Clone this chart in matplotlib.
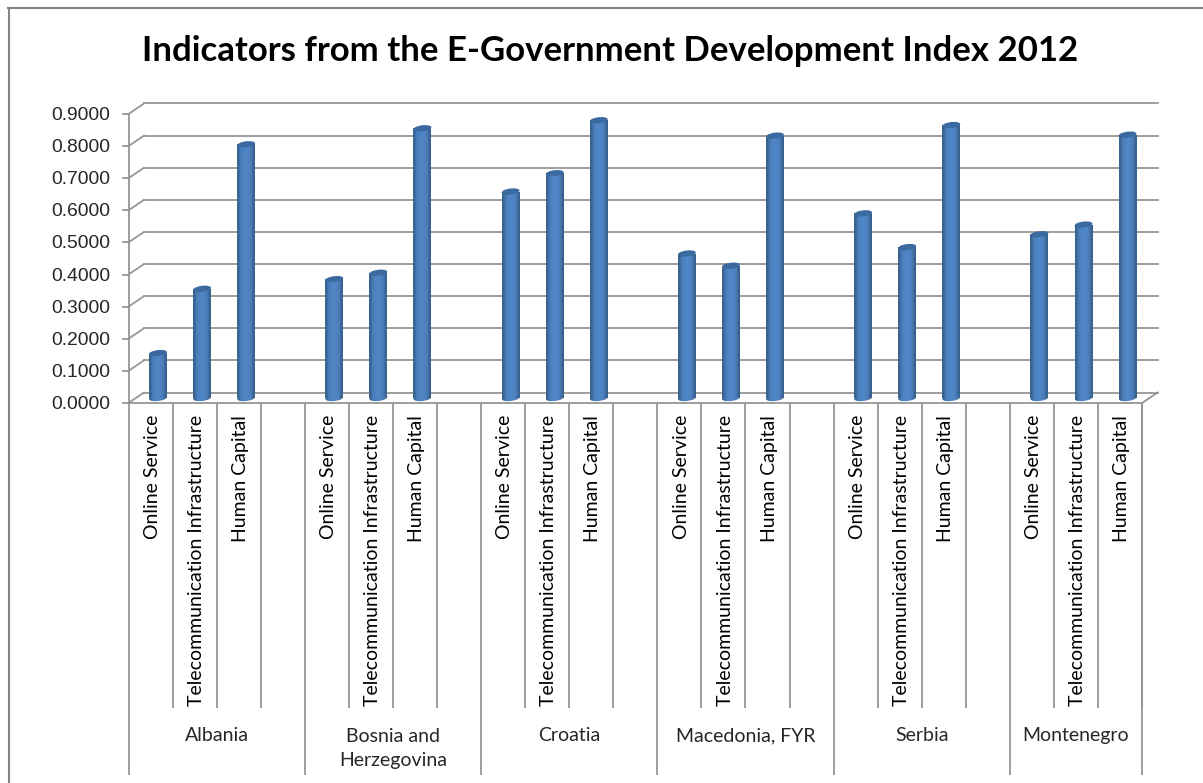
import matplotlib
matplotlib.use('Agg')
import matplotlib.pyplot as plt
import numpy as np
from matplotlib.patches import Ellipse
from matplotlib.transforms import Affine2D, IdentityTransform, blended_transform_factory

plt.rcParams['font.family'] = ['Lato', 'DejaVu Sans']

W, H = 1203, 783

countries = ['Albania', 'Bosnia and\nHerzegovina', 'Croatia', 'Macedonia, FYR', 'Serbia', 'Montenegro']
indicators = ['Online Service', 'Telecommunication Infrastructure', 'Human Capital']
online_service = [0.14, 0.37, 0.643, 0.45, 0.575, 0.51]
telecom = [0.34, 0.39, 0.70, 0.412, 0.47, 0.54]
human_capital = [0.79, 0.84, 0.865, 0.817, 0.85, 0.82]
yticks = [0.1 * i for i in range(10)]

line_col = '#969696'
lw = 1.3
slot_px = 44.07

fig = plt.figure(figsize=(W / 100, H / 100), dpi=100)
# axes = plane the bars stand on; walls and floor are shifted copies of it
ax = fig.add_axes([136 / W, (H - 398) / H, 23 * slot_px / W, 289 / H])
ax.axis('off')
ax.set_xlim(0, 23)
ax.set_ylim(0, 0.9)
ax.autoscale(False)
front = ax.transData + Affine2D().translate(-7.5, -5)
back = ax.transData + Affine2D().translate(8, 5.5)
front_px = blended_transform_factory(front, IdentityTransform())
screen = IdentityTransform()

# back wall gridlines
for t in yticks:
    ax.plot([0, 23], [t, t], transform=back, color=line_col, lw=lw, clip_on=False, zorder=1)
    # slanted piece on the side wall and tick mark
    p0 = front.transform((0, t))
    p1 = back.transform((0, t))
    ax.plot([p0[0], p1[0]], [p0[1], p1[1]], transform=screen, color=line_col, lw=lw, clip_on=False, zorder=1)
    ax.plot([p0[0] - 6, p0[0]], [p0[1], p0[1]], transform=screen, color=line_col, lw=lw, clip_on=False, zorder=1)
    ax.text(p0[0] - 18, p0[1] - 1.5, '%.4f' % t, transform=screen, ha='right', va='center',
            fontsize=13.9, color='#262626', family='Liberation Sans')

# left wall and floor
ax.plot([0, 0], [0, 0.9], transform=front, color=line_col, lw=lw, clip_on=False, zorder=1)
ax.plot([0, 23], [0, 0], transform=front, color=line_col, lw=lw, clip_on=False, zorder=1)
p0 = front.transform((23, 0))
p1 = back.transform((23, 0))
ax.plot([p0[0], p1[0]], [p0[1], p1[1]], transform=screen, color=line_col, lw=lw, clip_on=False, zorder=1)

# cylinders
grad = np.array([[0.0, 0.5, 0.85, 1.0, 0.85, 0.5, 0.0]])
cmap = matplotlib.colors.LinearSegmentedColormap.from_list('cyl', ['#38638f', '#4a7cb8', '#5087c8'])
bar_w = 18 / slot_px
ell_h = 6
for g in range(6):
    for k, vals in enumerate([online_service, telecom, human_capital]):
        x = g * 4 + k + 0.5
        v = vals[g]
        bar = ax.bar(x, v, width=bar_w, color='none', linewidth=0, zorder=3)[0]
        im = ax.imshow(grad, extent=(x - bar_w / 2, x + bar_w / 2, 0, v), aspect='auto', cmap=cmap,
                       interpolation='bilinear', zorder=3)
        im.set_clip_path(bar)
        # bottom and top caps, slightly tilted
        bx, by = ax.transData.transform((x, 0))
        tx, ty = ax.transData.transform((x, v))
        low = Ellipse((bx, by), 18, ell_h, angle=7, transform=screen, facecolor='none', edgecolor='none', zorder=3)
        ax.add_patch(low)
        im2 = ax.imshow(grad, extent=(x - bar_w / 2, x + bar_w / 2, -0.02, 0.002), aspect='auto', cmap=cmap,
                        interpolation='bilinear', zorder=3)
        im2.set_clip_box(fig.bbox)
        im2.set_clip_path(low)
        ax.add_patch(Ellipse((tx, ty), 18, ell_h, angle=7, transform=screen,
                             facecolor='#3a6a9f', edgecolor='none', zorder=4))

# category axis
sub_lines = [i for i in range(24) if i % 4 != 0]
group_lines = [0, 4, 8, 12, 16, 20, 23]
ax.vlines(sub_lines, H - 708, H - 403, transform=front_px, color=line_col, lw=lw, clip_on=False)
ax.vlines(group_lines, H - 775, H - 403, transform=front_px, color=line_col, lw=lw, clip_on=False)
for g, name in enumerate(countries):
    for k, lab in enumerate(indicators):
        ax.text(g * 4 + k + 0.54, H - 415, lab, transform=front_px, rotation=90, ha='center', va='top',
                fontsize=14, color='black')
    mid = (g * 4 + min(g * 4 + 4, 23)) / 2
    # baseline anchors the last line, so two-line names sit one line lower
    base = 741 + 25 * name.count('\n')
    ax.text(mid, H - base, name, transform=front_px, ha='center', va='baseline', fontsize=14,
            color='#262626', linespacing=1.5)

# chart frame, only left and top show in the crop
fig.add_artist(plt.Line2D([8.5 / W, 8.5 / W], [0, (H - 8) / H], color='#868686', lw=1.5))
fig.add_artist(plt.Line2D([8 / W, 1], [(H - 8) / H, (H - 8) / H], color='#868686', lw=1.5))

fig.text(610 / W, (H - 51) / H, 'Indicators from the E-Government Development Index 2012', ha='center', va='center',
         fontsize=25, fontweight='bold', color='black')

fig.savefig('out.png', dpi=100, facecolor='white')
